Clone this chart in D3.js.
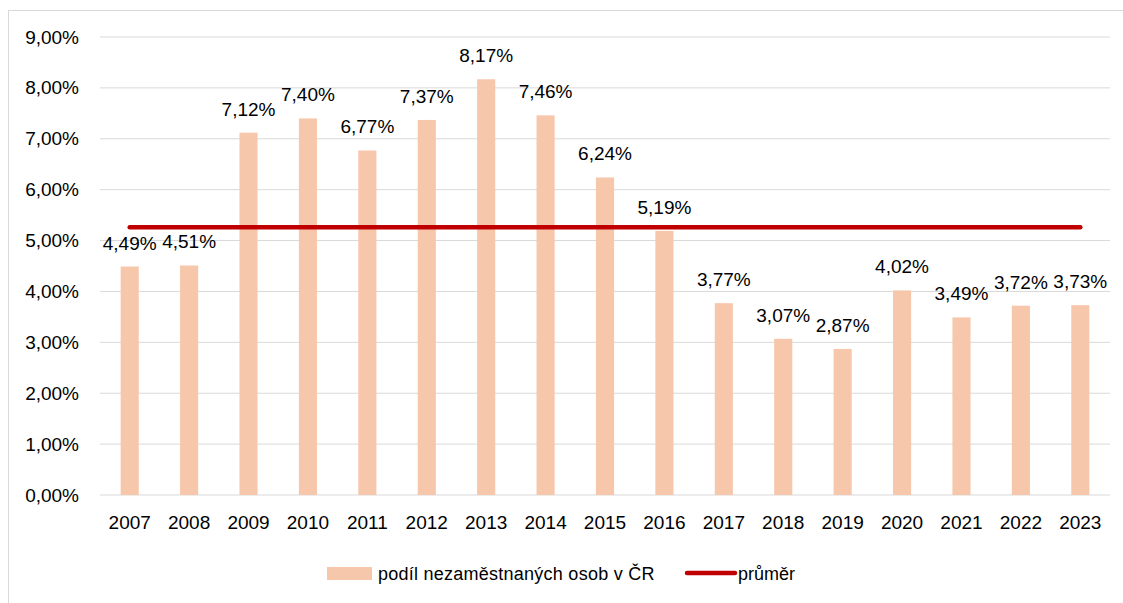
<!DOCTYPE html>
<html><head><meta charset="utf-8">
<script src="https://cdn.jsdelivr.net/npm/d3@7"></script>
<style>body{margin:0;background:#fff}svg{display:block;font-family:"Liberation Sans",Arial,sans-serif}</style>
</head><body>
<svg id="c" width="1123" height="603"></svg>
<script>
const years = ["2007","2008","2009","2010","2011","2012","2013","2014","2015","2016","2017","2018","2019","2020","2021","2022","2023"];
const shares = [4.49,4.51,7.12,7.40,6.77,7.37,8.17,7.46,6.24,5.19,3.77,3.07,2.87,4.02,3.49,3.72,3.73];
const average = 5.26;
const yTicks = [0,1,2,3,4,5,6,7,8,9];
const seriesNames = ["podíl nezaměstnaných osob v ČR","průměr"];

const svg = d3.select("#c");
const fmt = v => d3.format(".2f")(v).replace(".", ",") + "%";

svg.append("rect").attr("x",8.5).attr("y",10.5).attr("width",1130).attr("height",610)
  .attr("fill","none").attr("stroke","#d9d9d9");

const x = d3.scaleBand().domain(years).range([100,1110]).paddingInner(0.695).paddingOuter(0.3475);
const y = d3.scaleLinear().domain([0,9]).range([495,37]);

svg.append("g").selectAll("line").data(yTicks).join("line")
  .attr("x1",100).attr("x2",1110).attr("y1",d=>y(d)).attr("y2",d=>y(d))
  .attr("stroke","#d9d9d9").attr("stroke-width",1);

const yAxis = d3.axisLeft(y).tickValues(yTicks).tickFormat(d=>fmt(d)).tickSize(0).tickPadding(0);
svg.append("g").attr("transform","translate(79,0)").call(yAxis)
  .call(g=>g.select(".domain").remove())
  .selectAll("text").attr("font-size",19).attr("fill","#000").attr("font-family","Liberation Sans, Arial");

const xAxis = d3.axisBottom(x).tickSize(0).tickPadding(0);
svg.append("g").attr("transform","translate(0,515)").call(xAxis)
  .call(g=>g.select(".domain").remove())
  .selectAll("text").attr("font-size",19).attr("fill","#000").attr("font-family","Liberation Sans, Arial");

svg.append("g").selectAll("rect").data(years).join("rect")
  .attr("x",d=>x(d)).attr("width",x.bandwidth())
  .attr("y",(d,i)=>y(shares[i])).attr("height",(d,i)=>y(0)-y(shares[i]))
  .attr("fill","#f7c7ac");

svg.append("line")
  .attr("x1",x(years[0])+x.bandwidth()/2).attr("x2",x(years[years.length-1])+x.bandwidth()/2)
  .attr("y1",y(average)).attr("y2",y(average))
  .attr("stroke","#c00000").attr("stroke-width",4.5).attr("stroke-linecap","round");

svg.append("g").selectAll("text").data(years).join("text")
  .attr("x",d=>x(d)+x.bandwidth()/2).attr("y",(d,i)=>y(shares[i])-17)
  .attr("text-anchor","middle").attr("font-size",19).attr("fill","#000")
  .text((d,i)=>fmt(shares[i]));

// legend
const lg = svg.append("g");
lg.append("rect").attr("x",327).attr("y",567).attr("width",45).attr("height",13).attr("fill","#f7c7ac");
lg.append("text").attr("x",378).attr("y",580).attr("font-size",18).attr("fill","#000").style("letter-spacing","0.25px").text(seriesNames[0]);
lg.append("line").attr("x1",687).attr("x2",735).attr("y1",573).attr("y2",573).attr("stroke","#c00000").attr("stroke-width",4.5).attr("stroke-linecap","round");
lg.append("text").attr("x",738).attr("y",580).attr("font-size",18).attr("fill","#000").text(seriesNames[1]);
</script>
</body></html>
